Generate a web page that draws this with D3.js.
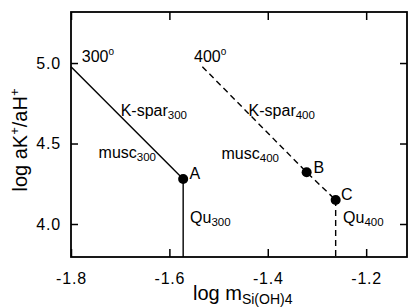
<html>
  <head>
    <meta charset="UTF-8">
    <script src="https://d3js.org/d3.v7.min.js"></script>
  </head>
  <body style="margin:0;background:#fff">
  <script>
    // data
    var xTicks = [-1.8, -1.6, -1.4, -1.2];
    var yTicks = [4.0, 4.5, 5.0];
    var line300 = [[-1.8, 4.977], [-1.572, 4.28]];
    var line400 = [[-1.533, 4.977], [-1.321, 4.321], [-1.262, 4.149]];
    var points = [
      {name: "A", x: -1.572, y: 4.28},
      {name: "B", x: -1.321, y: 4.321},
      {name: "C", x: -1.262, y: 4.149}
    ];
    // annotation text: [main, sub, sup, x, y]
    var notes = [
      ["300", "", "o", -1.778, 5.008],
      ["400", "", "o", -1.550, 5.008],
      ["K-spar", "300", "", -1.699, 4.673],
      ["K-spar", "400", "", -1.439, 4.673],
      ["musc", "300", "", -1.744, 4.410],
      ["musc", "400", "", -1.494, 4.404],
      ["A", "", "", -1.559, 4.278],
      ["B", "", "", -1.307, 4.319],
      ["C", "", "", -1.251, 4.149],
      ["Qu", "300", "", -1.558, 4.004],
      ["Qu", "400", "", -1.247, 4.004]
    ];

    var width = 408, height = 307;
    var mLeft = 71, mRight = 407, mTop = 12, mBottom = 257;

    var svg = d3.select("body").append("svg")
        .attr("width", width)
        .attr("height", height)
        .style("font-family", "'Liberation Sans', Arial, sans-serif");

    var x = d3.scaleLinear().domain([-1.8, -1.117]).range([mLeft, mRight]);
    var y = d3.scaleLinear().domain([3.795, 5.317]).range([mBottom, mTop]);

    var fmt = function(d){ return d3.format(".1f")(d).replace("\u2212", "-"); };

    // frame
    svg.append("rect")
        .attr("x", mLeft).attr("y", mTop)
        .attr("width", mRight - mLeft).attr("height", mBottom - mTop)
        .attr("fill", "none").attr("stroke", "#000").attr("stroke-width", 1.8);

    // axes with inward ticks
    var gx = svg.append("g").attr("transform", "translate(0," + mBottom + ")")
        .call(d3.axisBottom(x).tickValues(xTicks).tickSizeInner(-8).tickSizeOuter(0).tickPadding(16).tickFormat(fmt));
    var gxt = svg.append("g").attr("transform", "translate(0," + mTop + ")")
        .call(d3.axisTop(x).tickValues(xTicks).tickSizeInner(-8).tickSizeOuter(0).tickFormat(""));
    var gy = svg.append("g").attr("transform", "translate(" + mLeft + ",0)")
        .call(d3.axisLeft(y).tickValues(yTicks).tickSizeInner(-7).tickSizeOuter(0).tickPadding(10).tickFormat(fmt));
    var gyr = svg.append("g").attr("transform", "translate(" + mRight + ",0)")
        .call(d3.axisRight(y).tickValues(yTicks).tickSizeInner(-7).tickSizeOuter(0).tickFormat(""));

    [gx, gxt, gy, gyr].forEach(function(g){
      g.select(".domain").remove();
      g.selectAll("line").attr("stroke", "#000").attr("stroke-width", 1.5);
      g.selectAll("text").attr("fill", "#000").style("font-size", "16px")
        .style("font-family", "'Liberation Sans', Arial, sans-serif").style("letter-spacing", "0.8px");
    });

    var line = d3.line().x(function(d){ return x(d[0]); }).y(function(d){ return y(d[1]); });
    var ymin = y.domain()[0];

    // 300 degree boundaries (solid)
    svg.append("path").datum(line300).attr("d", line)
        .attr("fill", "none").attr("stroke", "#000").attr("stroke-width", 1.4);
    svg.append("path").datum([line300[1], [line300[1][0], ymin]]).attr("d", line)
        .attr("fill", "none").attr("stroke", "#000").attr("stroke-width", 1.4);

    // 400 degree boundaries (dashed)
    svg.append("path").datum(line400).attr("d", line)
        .attr("fill", "none").attr("stroke", "#000").attr("stroke-width", 1.4)
        .attr("stroke-dasharray", "6,4");
    var c = line400[line400.length - 1];
    svg.append("path").datum([c, [c[0], ymin]]).attr("d", line)
        .attr("fill", "none").attr("stroke", "#000").attr("stroke-width", 1.4)
        .attr("stroke-dasharray", "6,4");

    svg.selectAll("circle.pt").data(points).enter().append("circle")
        .attr("class", "pt")
        .attr("cx", function(d){ return x(d.x); })
        .attr("cy", function(d){ return y(d.y); })
        .attr("r", 5).attr("fill", "#000");

    // annotations
    notes.forEach(function(n){
      var t = svg.append("text")
          .attr("x", x(n[3])).attr("y", y(n[4]))
          .style("font-size", "16px").attr("fill", "#000");
      t.append("tspan").text(n[0]);
      if (n[1]) t.append("tspan").attr("dy", 3).style("font-size", "11.5px").text(n[1]);
      if (n[2]) t.append("tspan").attr("dy", -7).style("font-size", "10px").text(n[2]);
    });

    // axis titles
    var xt = svg.append("text").attr("x", 193).attr("y", 300)
        .style("font-size", "20px").attr("fill", "#000");
    xt.append("tspan").text("log m");
    xt.append("tspan").attr("dy", 4).style("font-size", "14px").text("Si(OH)4");

    var yt = svg.append("text")
        .attr("transform", "translate(27,140) rotate(-90)")
        .attr("text-anchor", "middle")
        .style("font-size", "20px").attr("fill", "#000");
    yt.append("tspan").text("log aK");
    yt.append("tspan").attr("dy", -8).style("font-size", "13px").text("+");
    yt.append("tspan").attr("dy", 8).text("/aH");
    yt.append("tspan").attr("dy", -8).style("font-size", "13px").text("+");
  </script>
  </body>
</html>
